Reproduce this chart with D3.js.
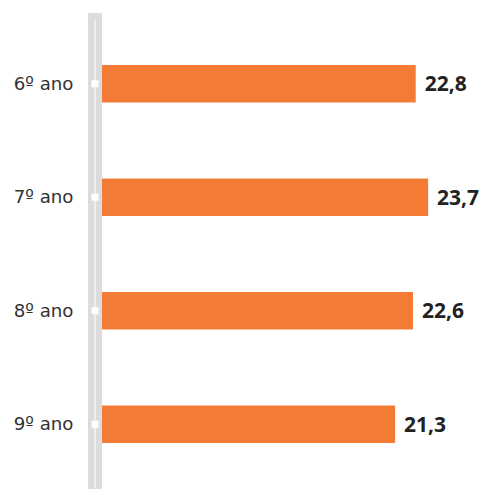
<!DOCTYPE html>
<html><head><meta charset="utf-8">
<script src="https://cdn.jsdelivr.net/npm/d3@7"></script>
<style>body{margin:0;background:#fff}svg{display:block}</style>
</head><body>
<script>
const categories = ["6º ano", "7º ano", "8º ano", "9º ano"];
const values = [22.8, 23.7, 22.6, 21.3];
const valueLabels = ["22,8", "23,7", "22,6", "21,3"];

const W = 482, H = 489;
const svg = d3.select("body").append("svg").attr("width", W).attr("height", H);

const x = d3.scaleLinear().domain([0, 10]).range([102, 239.6]);
const y = d3.scaleBand().domain(categories).range([27, 481]).paddingInner(0.67).paddingOuter(0.335);

// axis band
svg.append("rect").attr("x", 88).attr("y", 13).attr("width", 14).attr("height", H - 13).attr("fill", "#dcdcdc");
svg.append("line").attr("x1", 95).attr("x2", 95).attr("y1", 20).attr("y2", 488)
  .attr("stroke", "#f4f4f4").attr("stroke-width", 1.6);

const axis = d3.axisLeft(y).tickSize(0).tickPadding(21.5);
const g = svg.append("g").attr("transform", "translate(95,0)").call(axis);
g.select(".domain").remove();
g.selectAll(".tick text").attr("font-family", "'DejaVu Sans', sans-serif").attr("font-size", 18.2)
  .attr("fill", "#333").attr("font-weight", 400);
g.selectAll(".tick").append("rect").attr("x", -3.5).attr("y", -3.5).attr("width", 7).attr("height", 7).attr("fill", "#fff");

svg.selectAll(".bar").data(values).join("rect").attr("class", "bar")
  .attr("x", x(0)).attr("y", (d, i) => y(categories[i]))
  .attr("width", d => x(d) - x(0)).attr("height", y.bandwidth())
  .attr("fill", "#f47b34");

svg.selectAll(".val").data(values).join("text").attr("class", "val")
  .attr("x", d => x(d) + 9).attr("y", (d, i) => y(categories[i]) + y.bandwidth() / 2)
  .attr("dy", "0.36em").text((d, i) => valueLabels[i])
  .attr("font-family", "'Open Sans', sans-serif").attr("font-size", 21).attr("font-weight", 700).attr("fill", "#222");
</script>
</body></html>
